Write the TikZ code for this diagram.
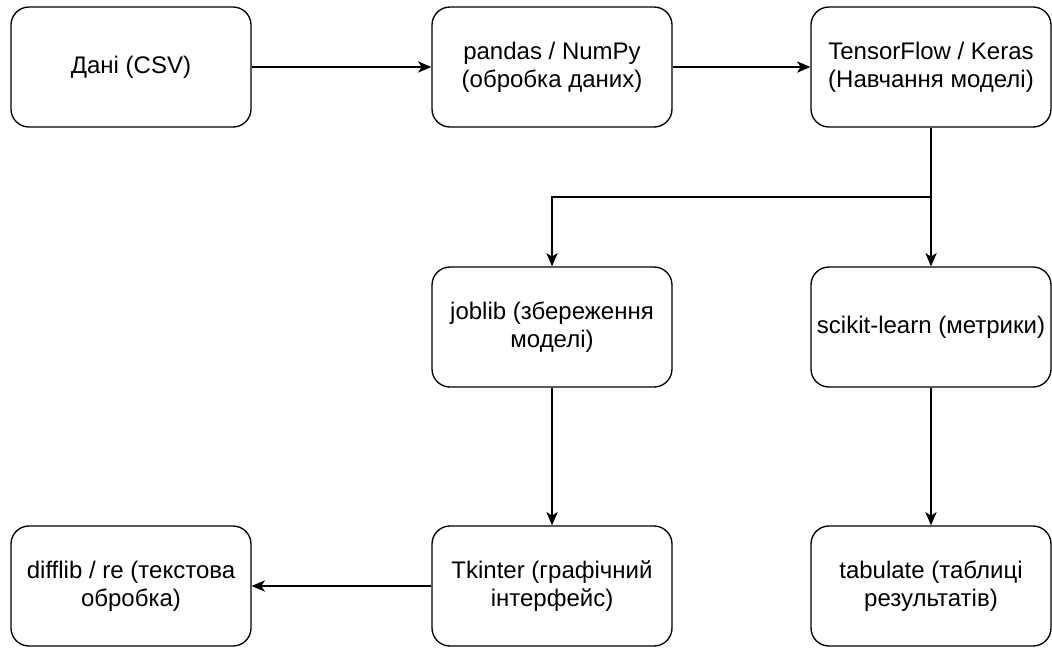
\documentclass[tikz,border=0pt]{standalone}
\usepackage{fontspec}
\setmainfont{Liberation Sans}
\usetikzlibrary{arrows.meta}
\begin{document}
\begin{tikzpicture}[x=0.75pt,y=-0.75pt,
  box/.style={draw, line width=1pt, rounded corners=13.5pt,
    minimum width=180pt, minimum height=90pt, inner sep=0pt,
    align=center, font=\fontsize{18}{21}\selectfont},
  conn/.style={draw, line width=1pt, -{Stealth[length=10pt,width=8.5pt,inset=2.8pt]}}]
\useasboundingbox (0,0) rectangle (1052,647);
% top row
\node[box] (data)   at (131,67)  {Дані (CSV)};
\node[box] (pandas) at (552,67)  {pandas / NumPy\\(обробка даних)};
\node[box] (tf)     at (931,67)  {TensorFlow / Keras\\(Навчання моделі)};
% middle row
\node[box] (joblib) at (552,327) {joblib (збереження\\моделі)};
\node[box] (sk)     at (931,327) {scikit-learn (метрики)};
% bottom row
\node[box] (diff)   at (131,586) {difflib / re (текстова\\обробка)};
\node[box] (tk)     at (552,586) {Tkinter (графічний\\інтерфейс)};
\node[box] (tab)    at (931,586) {tabulate (таблиці\\результатів)};
% connectors
\coordinate (split) at (931,197);
\draw[conn] (data) -- (pandas);
\draw[conn] (pandas) -- (tf);
\draw[conn] (tf) -- (sk);
\draw[conn] (split) -| (joblib.north);
\draw[conn] (joblib) -- (tk);
\draw[conn] (sk) -- (tab);
\draw[conn] (tk) -- (diff);
\end{tikzpicture}
\end{document}
